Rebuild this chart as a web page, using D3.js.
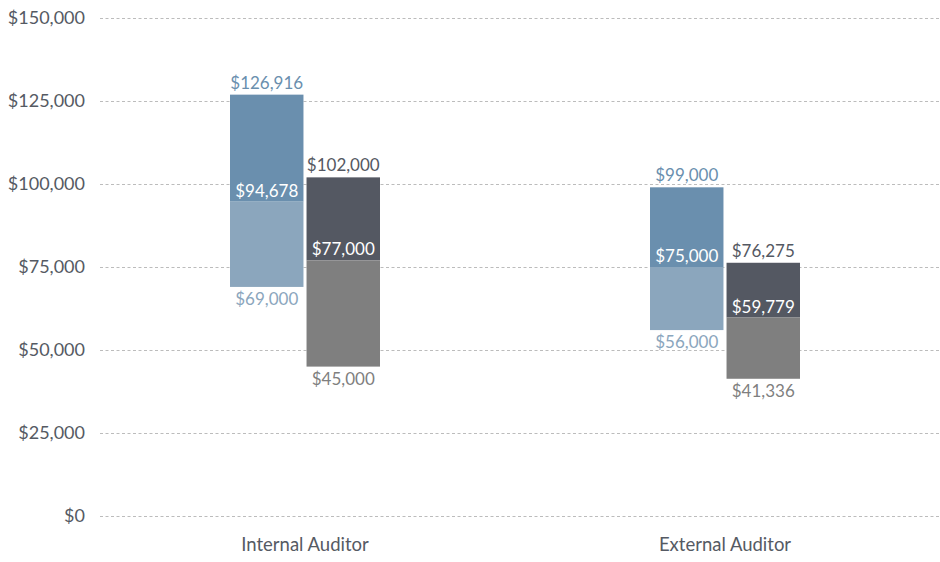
<!DOCTYPE html>
<html>
<head>
<meta charset="utf-8">
<script src="https://cdn.jsdelivr.net/npm/d3@7"></script>
<style>
  body { margin: 0; background: #fff; }
  svg text { font-family: Lato, "Open Sans", sans-serif; }
</style>
</head>
<body>
<div id="chart"></div>
<script>
// Salary ranges (low / median / high) per role
const categories = ["Internal Auditor", "External Auditor"];
const seriesNames = ["blue", "gray"];
const lowValues = { blue: [69000, 56000], gray: [45000, 41336] };
const medianValues = { blue: [94678, 75000], gray: [77000, 59779] };
const highValues = { blue: [126916, 99000], gray: [102000, 76275] };
const yTicks = [0, 25000, 50000, 75000, 100000, 125000, 150000];

const colors = {
    blue: { upper: "#6a8fae", lower: "#8ba6bd", highText: "#6a8fae", lowText: "#8ba6bd" },
    gray: { upper: "#545862", lower: "#7f7f7f", highText: "#545862", lowText: "#7f7f7f" }
};

const width = 940, height = 562;
const margin = { top: 18, right: 5, bottom: 46, left: 95 };

const svg = d3.select("#chart").append("svg")
    .attr("width", width)
    .attr("height", height);

const x = d3.scaleBand()
    .domain(categories)
    .range([margin.left, width - margin.right]);

const xSub = d3.scaleBand()
    .domain(seriesNames)
    .range([0, 150])
    .paddingInner(0.04);

const y = d3.scaleLinear()
    .domain([0, 150000])
    .range([height - margin.bottom, margin.top]);

const fmt = d3.format("$,");

// gridlines + y labels
const yAxis = svg.append("g")
    .attr("transform", `translate(100,0)`)
    .call(d3.axisLeft(y).tickValues(yTicks).tickFormat(fmt).tickSize(-840).tickPadding(15));
yAxis.select(".domain").remove();
yAxis.selectAll(".tick line")
    .attr("stroke", "#bcbcbc")
    .attr("stroke-dasharray", "3,2.5");
yAxis.selectAll(".tick text")
    .attr("fill", "#555a63")
    .style("font-size", "18px");

// category labels
const xAxis = svg.append("g")
    .attr("transform", `translate(0,${height - margin.bottom})`)
    .call(d3.axisBottom(x).tickSize(0).tickPadding(22));
xAxis.select(".domain").remove();
xAxis.selectAll(".tick text")
    .attr("fill", "#555a63")
    .style("font-size", "18.5px");

// flatten
const flat = [];
categories.forEach((c, i) => {
    seriesNames.forEach(s => {
        flat.push({
            cat: c, s: s,
            low: lowValues[s][i], med: medianValues[s][i], high: highValues[s][i]
        });
    });
});

const bx = d => x(d.cat) + x.bandwidth() / 2 - 75 + xSub(d.s);
const bw = xSub.bandwidth();

const g = svg.append("g");

// upper part (median to high)
g.selectAll(".upper")
    .data(flat)
    .enter().append("rect")
    .attr("x", bx)
    .attr("width", bw)
    .attr("y", d => y(d.high))
    .attr("height", d => y(d.med) - y(d.high))
    .attr("fill", d => colors[d.s].upper);

// lower part (low to median)
g.selectAll(".lower")
    .data(flat)
    .enter().append("rect")
    .attr("x", bx)
    .attr("width", bw)
    .attr("y", d => y(d.med))
    .attr("height", d => y(d.low) - y(d.med))
    .attr("fill", d => colors[d.s].lower);

// labels
g.selectAll(".high-label")
    .data(flat)
    .enter().append("text")
    .attr("x", d => bx(d) + bw / 2)
    .attr("y", d => y(d.high) - 6)
    .attr("text-anchor", "middle")
    .attr("fill", d => colors[d.s].highText)
    .style("font-size", "17px")
    .text(d => fmt(d.high));

g.selectAll(".med-label")
    .data(flat)
    .enter().append("text")
    .attr("x", d => bx(d) + bw / 2)
    .attr("y", d => y(d.med) - 5)
    .attr("text-anchor", "middle")
    .attr("fill", "#ffffff")
    .style("font-size", "17px")
    .text(d => fmt(d.med));

g.selectAll(".low-label")
    .data(flat)
    .enter().append("text")
    .attr("x", d => bx(d) + bw / 2)
    .attr("y", d => y(d.low) + 18)
    .attr("text-anchor", "middle")
    .attr("fill", d => colors[d.s].lowText)
    .style("font-size", "17px")
    .text(d => fmt(d.low));
</script>
</body>
</html>
